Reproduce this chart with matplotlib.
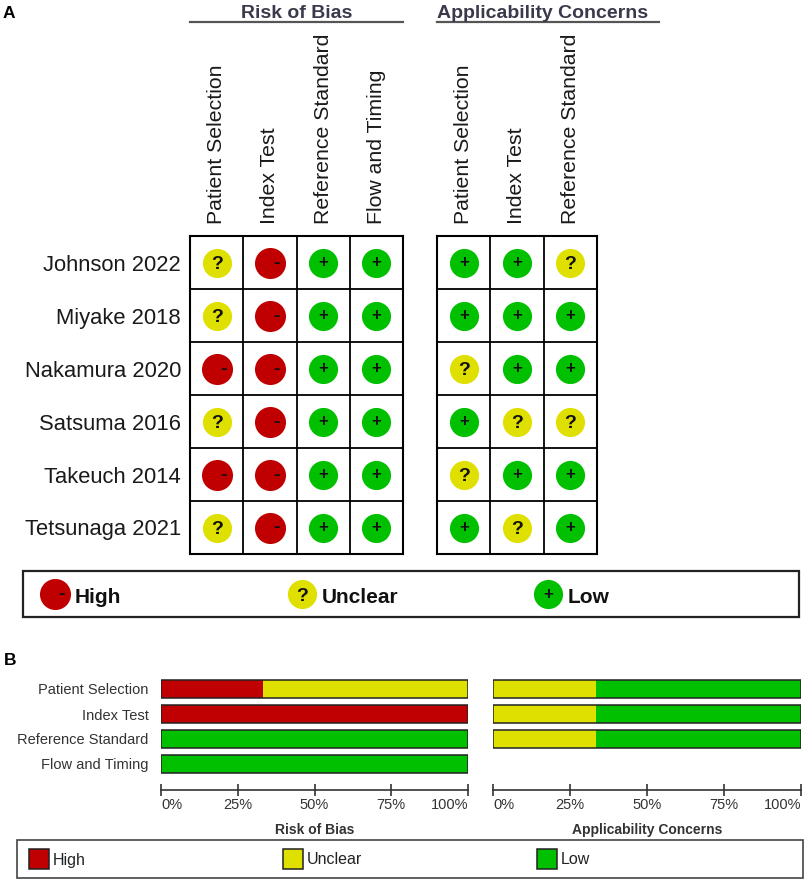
import matplotlib
matplotlib.use('Agg')
import matplotlib.pyplot as plt
from matplotlib.patches import Rectangle
from matplotlib.transforms import offset_copy
import numpy as np

W, H = 807, 881
plt.rcParams['font.family'] = ['Liberation Sans', 'DejaVu Sans']

# ---------------- data ----------------
studies = ['Johnson 2022', 'Miyake 2018', 'Nakamura 2020',
           'Satsuma 2016', 'Takeuch 2014', 'Tetsunaga 2021']
rob_domains = ['Patient Selection', 'Index Test', 'Reference Standard', 'Flow and Timing']
ac_domains = ['Patient Selection', 'Index Test', 'Reference Standard']

rob_judgements = [
    ['?', '-', '+', '+'],
    ['?', '-', '+', '+'],
    ['-', '-', '+', '+'],
    ['?', '-', '+', '+'],
    ['-', '-', '+', '+'],
    ['?', '-', '+', '+'],
]
ac_judgements = [
    ['+', '+', '?'],
    ['+', '+', '+'],
    ['?', '+', '+'],
    ['+', '?', '?'],
    ['?', '+', '+'],
    ['+', '?', '+'],
]

# summary percentages (panel B)
rob_high = [33.3, 100, 0, 0]
rob_unclear = [66.7, 0, 0, 0]
rob_low = [0, 0, 100, 100]
ac_high = [0, 0, 0]
ac_unclear = [33.3, 33.3, 33.3]
ac_low = [66.7, 66.7, 66.7]

pct_ticks = [0, 25, 50, 75, 100]
pct_labels = ['0%', '25%', '50%', '75%', '100%']
legend_names = ['High', 'Unclear', 'Low']

# ---------------- style ----------------
RED = '#c00000'
YEL = '#e0e000'
GRN = '#00c000'
COL = {'-': RED, '?': YEL, '+': GRN}
SIZE = {'-': 500, '?': 440, '+': 440}

fig = plt.figure(figsize=(W / 100, H / 100), dpi=100)
fig.patch.set_facecolor('white')


def px_axes(x0, y0, x1, y1, **kw):
    return fig.add_axes([x0 / W, 1 - y1 / H, (x1 - x0) / W, (y1 - y0) / H], **kw)


ov = px_axes(0, 0, W, H)
ov.set_xlim(0, W)
ov.set_ylim(H, 0)
ov.axis('off')

# symbol: (glyph, fontsize, x offset pt, baseline offset pt)
SYM = {
    '-': ('-', 14, 5.0, -3.6),
    '?': ('?', 14, 0.0, -5.0),
    '+': ('+', 12, 0.0, -3.4),
}


def draw_symbol(ax, x, y, v):
    g, fs, dx, dy = SYM[v]
    tr = offset_copy(ax.transData, fig=fig, x=dx, y=dy, units='points')
    ax.text(x, y, g, transform=tr, ha='center', va='baseline',
            fontsize=fs, fontweight='bold', color='#111', zorder=4)


def draw_grid(ax, data, domains, row_labels):
    n_r, n_c = len(data), len(domains)
    ax.set_xlim(0, n_c)
    ax.set_ylim(n_r, 0)
    for i in range(1, n_c):
        ax.axvline(i, color='black', lw=1.3)
    for j in range(1, n_r):
        ax.axhline(j, color='black', lw=1.3)
    for sp in ax.spines.values():
        sp.set_linewidth(1.5)
        sp.set_color('black')
    for r, row in enumerate(data):
        for c, v in enumerate(row):
            ax.scatter([c + 0.5], [r + 0.5], s=SIZE[v], color=COL[v],
                       linewidths=0, zorder=3)
            draw_symbol(ax, c + 0.5, r + 0.5, v)
    ax.xaxis.tick_top()
    ax.set_xticks(np.arange(n_c) + 0.5)
    ax.set_xticklabels(domains, rotation=90, fontsize=15.3, color='#1a1a1a')
    ax.set_yticks(np.arange(n_r) + 0.5)
    if row_labels is not None:
        ax.set_yticklabels(row_labels, fontsize=15.8, color='#1a1a1a')
    else:
        ax.set_yticklabels([])
    ax.tick_params(axis='x', length=0, pad=8.5)
    ax.tick_params(axis='y', length=0, pad=6.5)


ax_rob = px_axes(190, 236, 403, 554)
draw_grid(ax_rob, rob_judgements, rob_domains, studies)
ax_ac = px_axes(437, 236, 597, 554)
draw_grid(ax_ac, ac_judgements, ac_domains, None)

# headers
ov.text(296.5, 18.5, 'Risk of Bias', ha='center', va='baseline', fontsize=14,
        fontweight='bold', color='#3a3a4c')
ov.plot([190, 403], [21.5, 21.5], color='#555555', lw=1.6)
ov.text(437, 18.5, 'Applicability Concerns', ha='left', va='baseline', fontsize=14,
        fontweight='bold', color='#3a3a4c')
ov.plot([437, 659], [21.5, 21.5], color='#555555', lw=1.6)
ov.text(3, 18, 'A', ha='left', va='baseline', fontsize=12.5, fontweight='bold', color='black')
ov.text(4, 665, 'B', ha='left', va='baseline', fontsize=12.5, fontweight='bold', color='black')

# legend A
ov.add_patch(Rectangle((23, 571), 776, 46, fill=False, lw=1.6, ec='#222222'))
leg_a_x = [55, 302, 548]
for xx, v, name in zip(leg_a_x, ['-', '?', '+'], legend_names):
    ov.scatter([xx], [594], s=SIZE[v], color=COL[v], linewidths=0, zorder=3)
    draw_symbol(ov, xx, 594, v)
    ov.text(xx + 20, 603, name, ha='left', va='baseline', fontsize=15,
            fontweight='bold', color='#111')


# ---------------- panel B ----------------
def draw_bars(ax, high, unclear, low, labels, xlabel):
    y = np.arange(len(high))
    h = 0.72
    high = np.array(high)
    unclear = np.array(unclear)
    low = np.array(low)
    ax.barh(y, high, left=0, height=h, color=RED, lw=0)
    ax.barh(y, unclear, left=high, height=h, color=YEL, lw=0)
    ax.barh(y, low, left=high + unclear, height=h, color=GRN, lw=0)
    ax.barh(y, high + unclear + low, left=0, height=h, fill=False,
            edgecolor='#222222', lw=1.1)
    ax.set_xlim(0, 100)
    ax.set_ylim(4.04, -0.5)
    for s in ['left', 'right', 'top']:
        ax.spines[s].set_visible(False)
    ax.spines['bottom'].set_color('#333333')
    ax.spines['bottom'].set_linewidth(1.2)
    ax.set_xticks(pct_ticks)
    ax.set_xticklabels(pct_labels)
    ax.tick_params(axis='x', direction='inout', length=9, width=1.2,
                   color='#333333', labelsize=10.5, labelcolor='#333333', pad=1.5)
    tl = ax.get_xticklabels()
    tl[0].set_ha('left')
    tl[-1].set_ha('right')
    ax.set_yticks(np.arange(len(labels)))
    ax.set_yticklabels(labels, fontsize=10.5, color='#333333')
    ax.tick_params(axis='y', length=0, pad=9)
    ax.set_xlabel(xlabel, fontsize=10, fontweight='bold', color='#333333', labelpad=7.5)
    ax.patch.set_alpha(0)


axb1 = px_axes(161, 676.5, 468, 790)
draw_bars(axb1, rob_high, rob_unclear, rob_low, rob_domains, 'Risk of Bias')
axb2 = px_axes(493, 676.5, 801, 790)
draw_bars(axb2, ac_high, ac_unclear, ac_low, ac_domains, 'Applicability Concerns')
axb2.set_yticklabels([])

# legend B
ov.add_patch(Rectangle((17, 840), 786, 38, fill=False, lw=1.2, ec='#444444'))
leg_b_x = [29, 283, 537]
for xx, c, name in zip(leg_b_x, [RED, YEL, GRN], legend_names):
    ov.add_patch(Rectangle((xx, 849), 20, 20, fc=c, ec='#222222', lw=1.1))
    ov.text(xx + 24, 864.5, name, ha='left', va='baseline', fontsize=11.5, color='#222222')

fig.savefig('out.png', dpi=100, facecolor='white')
